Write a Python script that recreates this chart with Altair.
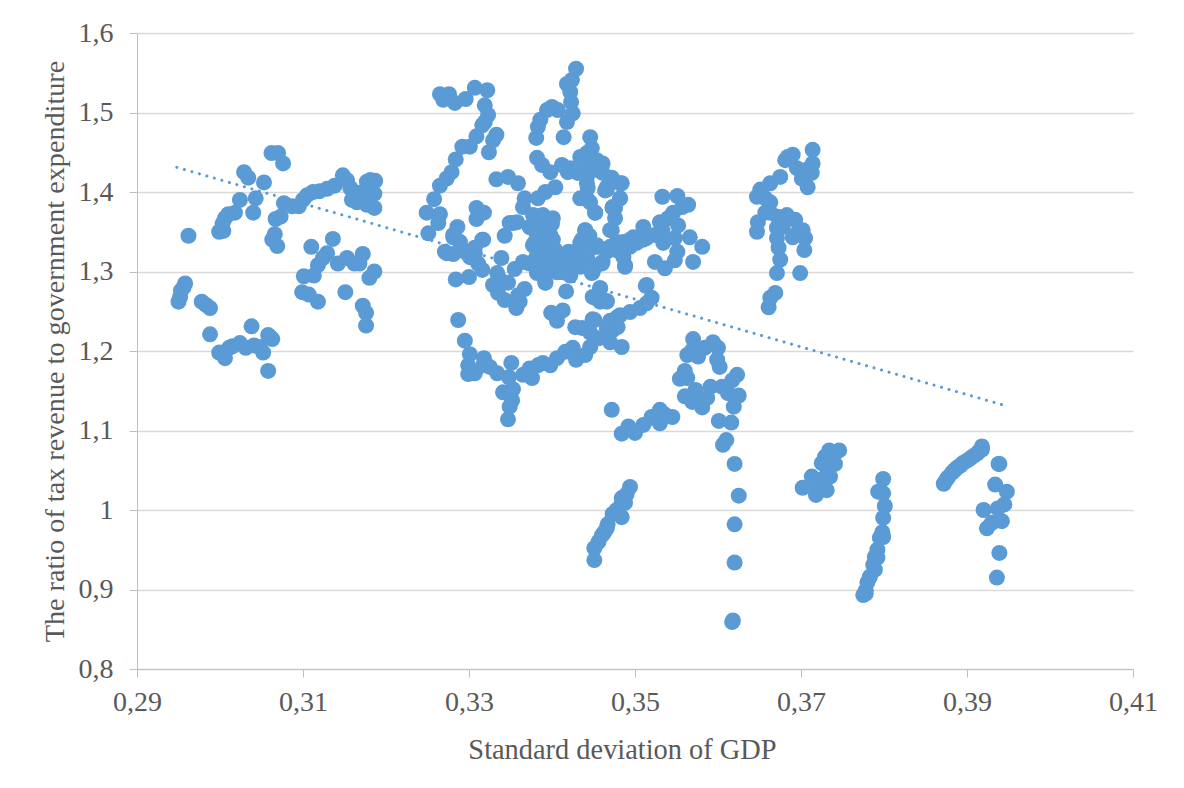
import altair as alt
import pandas as pd

low_left = [(.2950,1.262),(.2952,1.268),(.2953,1.276),(.2956,1.280),(.2958,1.285),(.2978,1.262),(.2983,1.258),(.2988,1.254),(.2988,1.221),(.2999,1.198),(.3006,1.191),(.3011,1.204),(.3015,1.206),(.3024,1.210),(.3031,1.204),(.3038,1.231),(.3041,1.207),(.3048,1.205),(.3052,1.198),(.3058,1.175),(.3058,1.220),(.3060,1.218),(.3063,1.215)]
up_left = [(.2962,1.345),(.2999,1.350),(.3004,1.351),(.3003,1.360),(.3006,1.367),(.3010,1.372),(.3018,1.374),(.3024,1.390),(.3029,1.425),(.3034,1.418),(.3040,1.374),(.3043,1.392),(.3053,1.412),(.3062,1.449),(.3070,1.449),(.3076,1.436),(.3063,1.340),(.3066,1.347),(.3069,1.332),(.3067,1.366),(.3073,1.369),(.3077,1.386),(.3087,1.382),(.3095,1.382),(.3100,1.390),(.3105,1.396),(.3112,1.400),(.3120,1.401),(.3129,1.404),(.3138,1.408),(.3148,1.421),(.3153,1.415),(.3157,1.405),(.3159,1.390),(.3165,1.387),(.3169,1.399),(.3177,1.413),(.3181,1.415),(.3187,1.414),(.3186,1.398),(.3177,1.384),(.3186,1.380),(.3173,1.396)]
mid_left = [(.3110,1.331),(.3136,1.341),(.3101,1.294),(.3113,1.295),(.3118,1.308),(.3129,1.323),(.3124,1.317),(.3142,1.310),(.3153,1.317),(.3162,1.310),(.3172,1.322),(.3168,1.310),(.3186,1.300),(.3180,1.292),(.3099,1.274),(.3107,1.271),(.3118,1.262),(.3151,1.274),(.3172,1.257),(.3176,1.248),(.3176,1.232)]
arc = [(.3265,1.523),(.3276,1.523),(.3269,1.516),(.3283,1.512),(.3296,1.517),(.3307,1.531),(.3322,1.528),(.3319,1.509),(.3323,1.497),(.3319,1.488),(.3316,1.484),(.3333,1.472),(.3329,1.465),(.3324,1.450),(.3309,1.470),(.3301,1.457),(.3292,1.457),(.3284,1.441),(.3279,1.425),(.3273,1.417),(.3265,1.408),(.3258,1.391),(.3249,1.374),(.3265,1.372),(.3263,1.361),(.3251,1.348),(.3333,1.416),(.3347,1.419),(.3359,1.411),(.3309,1.380),(.3318,1.374),(.3309,1.366),(.3286,1.356),(.3281,1.346),(.3289,1.337),(.3295,1.325),(.3317,1.340),(.3307,1.323),(.3271,1.325),(.3281,1.322),(.3343,1.345)]
peak = [(.3429,1.555),(.3424,1.541),(.3418,1.536),(.3422,1.526),(.3423,1.513),(.3425,1.499),(.3418,1.488),(.3414,1.469),(.3400,1.507),(.3394,1.503),(.3407,1.503),(.3386,1.491),(.3383,1.482),(.3381,1.468),(.3382,1.443),(.3388,1.434),(.3398,1.425),(.3404,1.406),(.3392,1.400),(.3383,1.392),(.3367,1.392),(.3365,1.381),(.3358,1.362),(.3349,1.361),(.3412,1.434),(.3419,1.425),(.3434,1.444),(.3446,1.469),(.3448,1.455),(.3442,1.449),(.3454,1.440),(.3461,1.436),(.3466,1.406),(.3442,1.411),(.3434,1.392),(.3443,1.390),(.3452,1.374)]
peak_fill = [(.3446,1.449),(.3422,1.430),(.3431,1.424),(.3446,1.436),(.3461,1.424),(.3443,1.405),(.3482,1.411),(.3472,1.418),(.3482,1.392),(.3476,1.380),(.3464,1.402),(.3442,1.419),(.3452,1.428),(.3440,1.436)]
dense = [(.3316,1.340),(.3307,1.330),(.3289,1.337),(.3281,1.343),(.3273,1.323),(.3301,1.318),(.3311,1.310),(.3316,1.302),(.3284,1.290),(.3300,1.293),(.3339,1.317),(.3355,1.303),(.3334,1.298),(.3329,1.283),(.3335,1.273),(.3343,1.264),(.3357,1.254),(.3361,1.262),(.3367,1.278),(.3359,1.270),(.3347,1.286),(.3337,1.290),(.3392,1.286),(.3382,1.298),(.3373,1.310),(.3377,1.333),(.3394,1.330),(.3404,1.325),(.3389,1.319),(.3401,1.340),(.3406,1.304),(.3418,1.308),(.3422,1.295),(.3417,1.275),(.3434,1.306),(.3442,1.317),(.3434,1.331),(.3436,1.340),(.3448,1.298),(.3460,1.310),(.3466,1.325),(.3454,1.333),(.3488,1.308),(.3478,1.327),(.3494,1.331),(.3510,1.340),(.3389,1.348),(.3382,1.346),(.3398,1.346),(.3365,1.312),(.3398,1.319),(.3382,1.321),(.3388,1.310),(.3425,1.310),(.3458,1.279),(.3449,1.268),(.3466,1.263),(.3458,1.262),(.3449,1.240),(.3399,1.248),(.3413,1.251),(.3406,1.238),(.3428,1.230),(.3436,1.229),(.3446,1.223),(.3380,1.370),(.3390,1.365),(.3400,1.360),(.3375,1.355),(.3385,1.340),(.3395,1.300),(.3410,1.320),(.3430,1.320),(.3420,1.325),(.3445,1.345)]
dense_fill = [(.3353,1.361),(.3377,1.371),(.3401,1.367),(.3389,1.371),(.3373,1.356),(.3389,1.352),(.3379,1.336),(.3394,1.336),(.3404,1.327),(.3377,1.312),(.3392,1.318),(.3392,1.286),(.3382,1.299),(.3406,1.299),(.3419,1.310),(.3413,1.299),(.3434,1.336),(.3440,1.352),(.3434,1.318),(.3449,1.299),(.3454,1.308),(.3461,1.312),(.3452,1.331),(.3472,1.352),(.3473,1.381),(.3479,1.327),(.3470,1.331),(.3498,1.343)]
valley = [(.3287,1.239),(.3295,1.213),(.3301,1.196),(.3299,1.182),(.3299,1.171),(.3307,1.172),(.3318,1.191),(.3317,1.182),(.3325,1.180),(.3334,1.172),(.3351,1.185),(.3348,1.167),(.3341,1.148),(.3353,1.152),(.3352,1.138),(.3349,1.130),(.3347,1.114),(.3365,1.170),(.3376,1.166),(.3373,1.178),(.3383,1.182),(.3398,1.182),(.3389,1.185),(.3406,1.191),(.3416,1.199),(.3425,1.204),(.3429,1.189),(.3440,1.195),(.3446,1.205),(.3456,1.216),(.3470,1.211),(.3484,1.205),(.3473,1.226),(.3479,1.230),(.3466,1.229),(.3478,1.242),(.3494,1.249),(.3506,1.254),(.3514,1.260),(.3514,1.283),(.3520,1.267),(.3513,1.282),(.3482,1.245),(.3470,1.238),(.3451,1.239)]
right_mid = [(.3458,1.279),(.3452,1.267),(.3466,1.262),(.3533,1.394),(.3551,1.395),(.3564,1.384),(.3557,1.381),(.3546,1.374),(.3552,1.358),(.3540,1.367),(.3530,1.362),(.3533,1.352),(.3510,1.356),(.3494,1.340),(.3486,1.337),(.3488,1.306),(.3486,1.318),(.3454,1.331),(.3478,1.337),(.3470,1.352),(.3476,1.367),(.3473,1.380),(.3482,1.392),(.3484,1.411),(.3473,1.413),(.3466,1.403),(.3452,1.374),(.3446,1.387),(.3440,1.352),(.3442,1.318),(.3566,1.343),(.3581,1.331),(.3570,1.312),(.3524,1.312),(.3536,1.304),(.3548,1.314),(.3551,1.325),(.3534,1.336),(.3548,1.342),(.3502,1.336),(.3514,1.342),(.3524,1.346)]
right_col = [(.3675,1.419),(.3663,1.411),(.3651,1.403),(.3647,1.394),(.3657,1.392),(.3663,1.387),(.3657,1.374),(.3648,1.362),(.3647,1.350),(.3671,1.342),(.3673,1.330),(.3675,1.315),(.3671,1.298),(.3699,1.298),(.3669,1.273),(.3663,1.267),(.3661,1.255),(.3683,1.371),(.3693,1.365),(.3690,1.343),(.3702,1.352),(.3705,1.342),(.3704,1.327),(.3672,1.369),(.3678,1.356),(.3695,1.348),(.3671,1.355),(.3663,1.374),(.3714,1.453),(.3714,1.436),(.3708,1.406),(.3701,1.417),(.3690,1.447),(.3681,1.440),(.3695,1.430),(.3713,1.424),(.3707,1.428),(.3684,1.444)]
bottom_a = [(.3746,1.075),(.3734,1.075),(.3725,1.059),(.3741,1.058),(.3713,1.042),(.3735,1.042),(.3702,1.028),(.3718,1.019),(.3731,1.025),(.3723,1.038),(.3731,1.053),(.3729,1.067),(.3720,1.030),(.3738,1.067)]
bottom_b = [(.3799,1.039),(.3799,1.021),(.3793,1.023),(.3801,1.005),(.3799,.990),(.3798,.972),(.3799,.966),(.3795,.965),(.3792,.950),(.3792,.940),(.3789,.941),(.3787,.931),(.3789,.925),(.3783,.916),(.3780,.909),(.3778,.899),(.3775,.893),(.3778,.895)]
bottom_c = [(.3872,1.033),(.3875,1.038),(.3877,1.041),(.3882,1.047),(.3885,1.050),(.3888,1.053),(.3892,1.056),(.3895,1.059),(.3900,1.062),(.3904,1.065),(.3908,1.068),(.3912,1.071),(.3915,1.074),(.3918,1.076),(.3918,1.080)]
bottom_d = [(.3939,1.058),(.3938,1.058),(.3934,1.032),(.3948,1.023),(.3945,1.007),(.3937,1.002),(.3920,1.000),(.3942,.986),(.3930,.984),(.3924,.977),(.3939,.946),(.3936,.915)]
lower_mid = [(.3451,.937),(.3451,.952),(.3456,.960),(.3460,.968),(.3466,.977),(.3467,.982),(.3473,.995),(.3484,.991),(.3478,1.000),(.3484,1.008),(.3484,1.015),(.3494,1.029),(.3490,1.020),(.3488,1.009),(.3463,.972),(.3472,1.126),(.3484,1.096),(.3492,1.105),(.3500,1.097),(.3510,1.107),(.3520,1.117),(.3530,1.126),(.3530,1.109),(.3545,1.117),(.3536,1.120),(.3524,1.115)]
ring = [(.3570,1.215),(.3563,1.195),(.3576,1.193),(.3569,1.201),(.3584,1.204),(.3594,1.211),(.3600,1.204),(.3599,1.189),(.3602,1.180),(.3560,1.175),(.3554,1.165),(.3563,1.166),(.3560,1.143),(.3573,1.151),(.3569,1.136),(.3581,1.129),(.3587,1.141),(.3575,1.140),(.3591,1.155),(.3605,1.155),(.3612,1.147),(.3623,1.170),(.3617,1.163),(.3625,1.144),(.3619,1.130),(.3601,1.112),(.3616,1.110),(.3610,1.088),(.3606,1.082),(.3620,1.058),(.3625,1.018),(.3620,.982),(.3620,.934),(.3617,.859),(.3618,.861)]

clusters = [low_left, up_left, mid_left, arc, peak, peak_fill, dense, dense_fill, valley, right_mid, right_col, bottom_a, bottom_b, bottom_c, bottom_d, lower_mid, ring]
points = pd.DataFrame([p for c in clusters for p in c], columns=["x", "y"])
trend = pd.DataFrame({"x": [0.2948, 0.3947], "y": [1.431, 1.131]})

x_title = "Standard deviation of GDP"
y_title = "The ratio of tax revenue to government expenditure"
x_ticks = [0.29, 0.31, 0.33, 0.35, 0.37, 0.39, 0.41]
y_ticks = [0.8, 0.9, 1.0, 1.1, 1.2, 1.3, 1.4, 1.5, 1.6]

FONT = "Liberation Serif"
TEXT = "#595959"
BLUE = "#5B9BD5"

x_enc = alt.X("x:Q", scale=alt.Scale(domain=[0.29, 0.41], nice=False, zero=False),
              axis=alt.Axis(values=x_ticks, title=x_title, grid=False, labelFlush=False, labelOverlap=False,
                            labelExpr="replace(format(datum.value,'.2f'),'.',',')",
                            domainColor="#BFBFBF", tickColor="#BFBFBF", tickSize=8,
                            labelFont=FONT, labelFontSize=28, labelColor=TEXT, labelPadding=11,
                            titleFont=FONT, titleFontSize=28.4, titleColor=TEXT, titleFontWeight="normal",
                            titlePadding=20, titleX=485))
y_enc = alt.Y("y:Q", scale=alt.Scale(domain=[0.8, 1.6], nice=False, zero=False),
              axis=alt.Axis(values=y_ticks, title=y_title, gridColor="#D9D9D9", gridWidth=1.5, labelOverlap=False,
                            labelExpr="replace(format(datum.value,'.1~f'),'.',',')",
                            domainColor="#BFBFBF", tickColor="#BFBFBF", tickSize=8,
                            labelFont=FONT, labelFontSize=28, labelColor=TEXT, labelPadding=16,
                            titleFont=FONT, titleFontSize=28.2, titleColor=TEXT, titleFontWeight="normal",
                            titlePadding=9))

dots = alt.Chart(points).mark_circle(size=256, color=BLUE, opacity=1).encode(x=x_enc, y=y_enc)
line = alt.Chart(trend).mark_line(color=BLUE, strokeWidth=3, strokeCap="round", strokeDash=[0.1, 7.7]).encode(x="x:Q", y="y:Q")

chart = (dots + line).properties(
    width=996, height=636,
    padding={"left": 129, "top": 25, "right": 40, "bottom": 108},
    autosize=alt.AutoSizeParams(type="none"),
    background="white",
).configure_view(stroke=None)

chart.save("out.html", embed_options={"renderer": "svg", "actions": False})
